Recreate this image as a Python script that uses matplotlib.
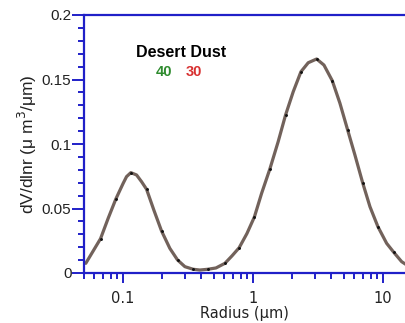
import numpy as np
import matplotlib.pyplot as plt
from matplotlib.ticker import MultipleLocator, LogLocator, FixedFormatter, FixedLocator

# volume size distribution, desert dust
radius = [0.0516, 0.0670, 0.0767, 0.0879, 0.1000, 0.1062, 0.1146, 0.1268, 0.1385,
          0.1514, 0.1722, 0.1973, 0.2286, 0.2620, 0.2985, 0.3453, 0.389, 0.448,
          0.517, 0.606, 0.686, 0.780, 0.895, 1.021, 1.161, 1.343, 1.556, 1.774,
          2.031, 2.328, 2.649, 3.075, 3.500, 4.055, 4.645, 5.324, 6.056, 6.945,
          7.904, 9.10, 10.62, 12.08, 13.85, 15.8]
dvdlnr = [0.0075, 0.0266, 0.0424, 0.0574, 0.0695, 0.0747, 0.0778, 0.0760, 0.0708,
          0.0649, 0.0488, 0.0326, 0.0191, 0.0101, 0.0049, 0.0029, 0.0023, 0.0029,
          0.0039, 0.0075, 0.0132, 0.0196, 0.0306, 0.0434, 0.0618, 0.0806, 0.1018,
          0.1225, 0.1405, 0.1560, 0.1630, 0.1659, 0.1612, 0.1491, 0.1316, 0.1109,
          0.0915, 0.0700, 0.0514, 0.0359, 0.0230, 0.0159, 0.0088, 0.0050]
dot_idx = [1, 3, 6, 9, 11, 13, 15, 17, 19, 21, 23, 25, 27, 29, 31, 33, 35, 37, 39, 41]

blue = '#2020c8'
W, H = 405, 323
plt.rcParams['font.family'] = ['Liberation Sans', 'DejaVu Sans']

fig = plt.figure(figsize=(W / 100, H / 100), dpi=100)
ax = fig.add_axes([84/W, 50/H, 321/W, 258/H])

ax.plot(radius, dvdlnr, color='#72625b', lw=2.3, solid_capstyle='round',
        marker='o', markevery=dot_idx, ms=1.1, mfc='#111111', mec='#111111')

ax.set_xscale('log')
ax.set_xlim(0.05, 14.7)
ax.set_ylim(0, 0.2)

for s in ['left', 'bottom', 'top']:
    ax.spines[s].set_color(blue)
    ax.spines[s].set_linewidth(1.6)
ax.spines['right'].set_visible(False)

ax.yaxis.set_major_locator(FixedLocator([0, 0.05, 0.1, 0.15, 0.2]))
ax.yaxis.set_major_formatter(FixedFormatter(['0', '0.05', '0.1', '0.15', '0.2']))
ax.yaxis.set_minor_locator(MultipleLocator(0.01))
ax.xaxis.set_major_locator(FixedLocator([0.1, 1, 10]))
ax.xaxis.set_major_formatter(FixedFormatter(['0.1', '1', '10']))
ax.xaxis.set_minor_locator(LogLocator(base=10, subs=np.arange(2, 10)))

ax.tick_params(axis='y', which='major', length=9, width=1.4, color=blue,
               labelsize=11, pad=0, labelcolor='#222222')
ax.tick_params(axis='y', which='minor', length=4.5, width=1.4, color=blue)
ax.tick_params(axis='x', which='major', length=7, width=1.4, color=blue,
               labelsize=11, pad=6, labelcolor='#222222')
ax.tick_params(axis='x', which='minor', length=4.5, width=1.4, color=blue)
for lab in ax.get_xticklabels():
    lab.set_family(['DejaVu Sans'])
    lab.set_fontsize(10.5)

ax.set_xlabel('Radius (\u03bcm)', fontsize=10.5, family=['DejaVu Sans'],
              color='#222222', labelpad=0)
ax.set_ylabel('dV/dlnr (\u03bc m$^3$/\u03bcm)', fontsize=12.5, color='#222222',
              labelpad=2)

# title block, placed in pixel coordinates from the top-left corner
fig.text(181 / W, 1 - 57 / H, 'Desert Dust', fontsize=11.5, fontweight='bold',
         ha='center', va='baseline')
fig.text(164 / W, 1 - 76 / H, '40', fontsize=10.5, fontweight='bold',
         color='#2e8b2e', ha='center', va='baseline')
fig.text(194 / W, 1 - 76 / H, '30', fontsize=10.5, fontweight='bold',
         color='#d83030', ha='center', va='baseline')

fig.savefig('out.png', dpi=100)
